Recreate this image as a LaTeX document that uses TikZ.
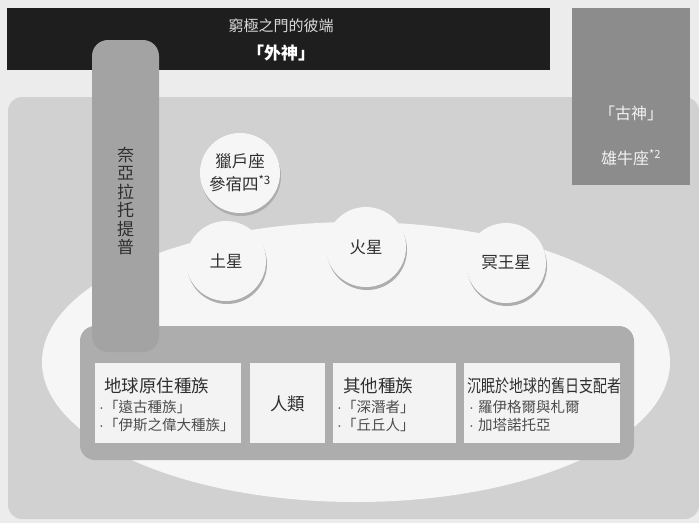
\documentclass[tikz,border=0pt]{standalone}
\usepackage{fontspec}
\setmainfont{Noto Sans CJK TC}
\newfontfamily\dotfont{Liberation Sans}
\usetikzlibrary{shadows}
\definecolor{paper}{HTML}{ECECEC}
\definecolor{fog}{HTML}{D1D1D1}
\definecolor{ink}{HTML}{1E1E1E}
\definecolor{elder}{HTML}{8C8C8C}
\definecolor{rope}{HTML}{A3A3A3}
\definecolor{slab}{HTML}{ADADAD}
\definecolor{cloud}{HTML}{F6F6F6}
\definecolor{sheet}{HTML}{F3F3F3}
\definecolor{letter}{HTML}{2E2E2E}
\newcommand\racehead{\fontsize{17.5}{20}\selectfont}
\newcommand\raceitem{\fontsize{14.5}{17}\selectfont}
\newcommand\planetfont{\fontsize{16.5}{23}\selectfont}
\newcommand\bul{{\dotfont ·}}

\begin{document}
\begin{tikzpicture}[x=1pt,y=-1pt,
	planet/.style={circle,fill=cloud,minimum size=80pt,inner sep=0pt,text=letter,font=\planetfont,align=center,
		drop shadow={shadow xshift=1pt,shadow yshift=-3pt,fill=black!32,opacity=1}},
	head/.style={anchor=west,inner sep=0pt,text=letter,font=\racehead},
	entry/.style={anchor=west,inner sep=0pt,text=letter!85!white,font=\raceitem}]
	%%%%% START %%%%%
	\def\btop{363}
	\def\bbot{443}
	\def\rowhead{386}
	\def\rowone{407}
	\def\rowtwo{425}
	\useasboundingbox (0,0) rectangle (699,523);
	\fill[paper] (0,0) rectangle (699,523);
	\fill[fog,rounded corners=14pt] (8,97) rectangle (699,519);

	\fill[ink] (7,8) rectangle (550,70);
	\node[text=white!85!black,font=\fontsize{15}{18}\selectfont] (gate) at (281,26) {窮極之門的彼端};
	\node[text=white,font=\fontsize{17}{20}\selectfont\bfseries] (outer) at (281,53) {「外神」};

	\fill[elder] (572,8) rectangle (690,185);
	\node[text=white!95!black,font=\fontsize{16}{19}\selectfont] (elderhead) at (631,113) {「古神」};
	\node[text=white!95!black,font=\fontsize{16}{19}\selectfont] (taurus) at (631,158) {雄牛座\textsuperscript{*2}};

	\fill[cloud] (356,362) ellipse [x radius=314, y radius=140];

	\node[planet] (orion) at (240,173) {獵戶座\\參宿四\textsuperscript{*3}};
	\node[planet] (saturn) at (226,261) {土星};
	\node[planet] (mars) at (366,247) {火星};
	\node[planet] (pluto) at (506,263) {冥王星};

	\fill[slab,rounded corners=15pt] (80,326) rectangle (634,460);
	\fill[sheet] (95,\btop) rectangle (241,\bbot);
	\fill[sheet] (250,\btop) rectangle (325,\bbot);
	\fill[sheet] (333,\btop) rectangle (456,\bbot);
	\fill[sheet] (464,\btop) rectangle (620,\bbot);

	\node[head] (native) at (104,\rowhead) {地球原住種族};
	\node[entry] (elderthing) at (99,\rowone) {\bul「遠古種族」};
	\node[entry] (yith) at (99,\rowtwo) {\bul「伊斯之偉大種族」};
	\node[text=letter,font=\racehead] (human) at (287.5,404) {人類};
	\node[head] (other) at (343,\rowhead) {其他種族};
	\node[entry] (deepone) at (337,\rowone) {\bul「深潛者」};
	\node[entry] (tcho) at (337,\rowtwo) {\bul「丘丘人」};
	\node[head] (sleeper) at (467,\rowhead) {\scalebox{0.8}[1]{沉眠於地球的舊日支配者}};
	\node[entry] (lloigor) at (469,\rowone) {\bul\hspace{4pt}羅伊格爾與札爾};
	\node[entry] (ghatanoth) at (469,\rowtwo) {\bul\hspace{4pt}加塔諾托亞};

	\fill[rope,rounded corners=16pt] (92,40) rectangle (159,352);
	\node[text=letter,font=\fontsize{17}{18.5}\selectfont,align=center] (nyarla) at (125.5,201) {奈\\亞\\拉\\托\\提\\普};
	%%%%% END %%%%%
\end{tikzpicture}
\end{document}
